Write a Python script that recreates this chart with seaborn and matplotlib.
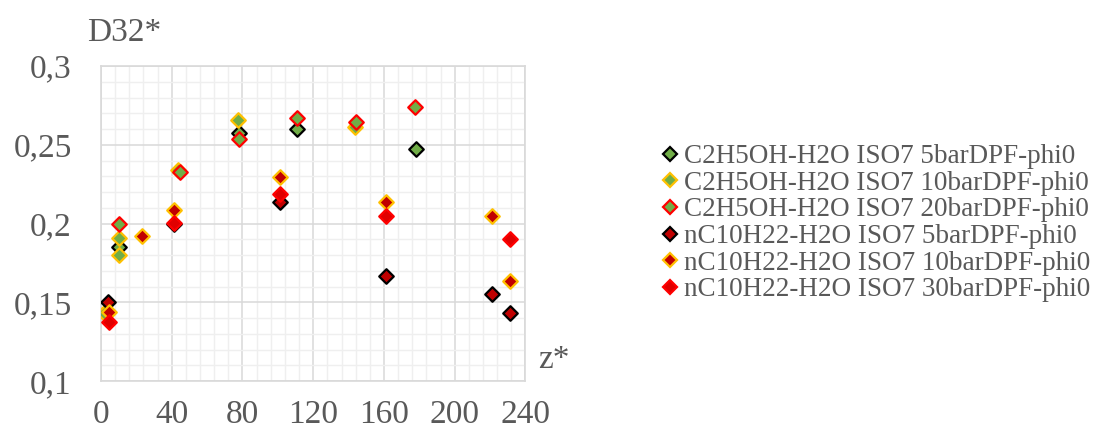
import seaborn as sns
import matplotlib.pyplot as plt
import pandas as pd
from matplotlib.ticker import MultipleLocator, FuncFormatter
from matplotlib.lines import Line2D

labels = ['C2H5OH-H2O ISO7 5barDPF-phi0',
          'C2H5OH-H2O ISO7 10barDPF-phi0',
          'C2H5OH-H2O ISO7 20barDPF-phi0',
          'nC10H22-H2O ISO7 5barDPF-phi0',
          'nC10H22-H2O ISO7 10barDPF-phi0',
          'nC10H22-H2O ISO7 30barDPF-phi0']

z_eth5 = [10.4, 78.1, 111, 178.1]
d_eth5 = [0.185, 0.2577, 0.260, 0.247]
z_eth10 = [1.8, 10.4, 10.4, 43.4, 77.5, 143.4]
d_eth10 = [0.143, 0.191, 0.180, 0.234, 0.266, 0.261]
z_eth20 = [10.4, 44.5, 77.9, 110.7, 144.3, 177.7]
d_eth20 = [0.200, 0.2325, 0.2537, 0.267, 0.2646, 0.274]
z_dec5 = [4.1, 41.5, 101.3, 161.3, 221.1, 231.1]
d_dec5 = [0.150, 0.1995, 0.2134, 0.1665, 0.155, 0.143]
z_dec10 = [4.7, 23.2, 41.5, 101.3, 161.3, 221.3, 231.1]
d_dec10 = [0.144, 0.192, 0.2086, 0.2297, 0.2138, 0.2046, 0.1635]
z_dec30 = [4.7, 41.5, 101.3, 161.3, 231.1]
d_dec30 = [0.1377, 0.2005, 0.2187, 0.205, 0.190]

zs = [z_eth5, z_eth10, z_eth20, z_dec5, z_dec10, z_dec30]
ds = [d_eth5, d_eth10, d_eth20, d_dec5, d_dec10, d_dec30]
fills = ['#70ad47', '#70ad47', '#70ad47', '#c00000', '#c00000', '#e00000']
edges = ['#000000', '#ffc000', '#ff0000', '#000000', '#ffc000', '#ff0000']

df = pd.concat([pd.DataFrame({'z': z, 'd': d, 'serie': lab})
                for z, d, lab in zip(zs, ds, labels)])

sns.set_theme(style='white')
plt.rcParams['font.family'] = ['Liberation Serif', 'DejaVu Serif']
txt = '#595959'

fig = plt.figure(figsize=(10.94, 4.36), dpi=100)
ax = fig.add_axes([0.0923, 0.126, 0.388, 0.7226])

for lab, fc, ec in zip(labels, fills, edges):
    sns.scatterplot(data=df[df['serie'] == lab], x='z', y='d', marker='D',
                    s=55, color=fc, edgecolor=ec, linewidth=1.6, ax=ax,
                    legend=False, zorder=3)

ax.set_xlim(0, 240)
ax.set_ylim(0.1, 0.3)
ax.xaxis.set_major_locator(MultipleLocator(40))
ax.xaxis.set_minor_locator(MultipleLocator(8))
ax.yaxis.set_major_locator(MultipleLocator(0.05))
ax.yaxis.set_minor_locator(MultipleLocator(0.01))
ax.yaxis.set_major_formatter(FuncFormatter(lambda v, p: ('%g' % round(v, 2)).replace('.', ',')))
ax.grid(which='major', color='#d9d9d9', linewidth=1.1)
ax.grid(which='minor', color='#efefef', linewidth=1.0)
ax.set_axisbelow(True)
for sp in ax.spines.values():
    sp.set_color('#d9d9d9')
    sp.set_linewidth(1.2)
ax.tick_params(axis='both', which='both', length=0, labelsize=24, colors=txt)
ax.tick_params(axis='y', pad=21)
ax.tick_params(axis='x', pad=13)
ax.set_xlabel('')
ax.set_ylabel('')

fig.text(0.080, 0.905, 'D32*', fontsize=24, color=txt)
fig.text(0.492, 0.155, 'z*', fontsize=24, color=txt)

handles = [Line2D([], [], marker='D', linestyle='none', markersize=7.5,
                  markerfacecolor=fc, markeredgecolor=ec, markeredgewidth=1.6)
           for fc, ec in zip(fills, edges)]
leg = fig.legend(handles, labels, loc='center left', bbox_to_anchor=(0.605, 0.488),
                 frameon=False, fontsize=19.5, handlelength=0.6, handletextpad=0.2,
                 labelspacing=0.06, borderaxespad=0, borderpad=0)
for t in leg.get_texts():
    t.set_color(txt)

fig.savefig('out.png', dpi=100)
